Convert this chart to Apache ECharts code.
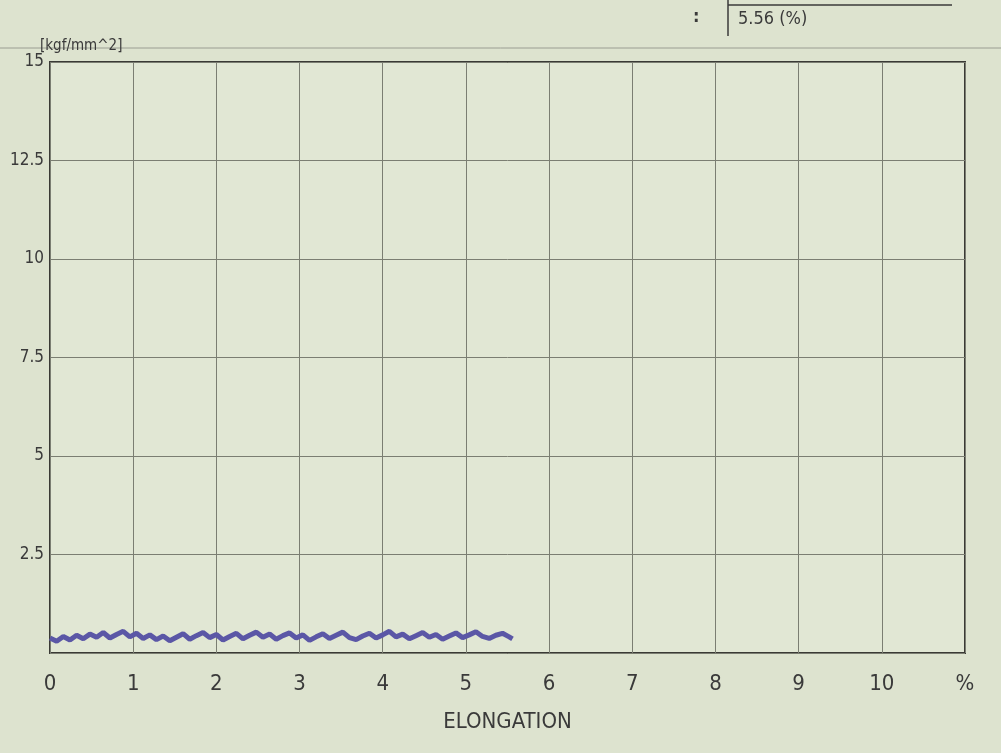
<!DOCTYPE html>
<html>
<head>
<meta charset="utf-8">
<script src="https://cdn.jsdelivr.net/npm/echarts@6/dist/echarts.min.js"></script>
<style>
html,body{margin:0;padding:0;background:#dde3cf;}
#c{width:1001px;height:753px;}
</style>
</head>
<body>
<div id="c"></div>
<script>
const elongation = [0,0.08,0.16,0.24,0.32,0.40,0.48,0.56,0.64,0.72,0.80,0.88,0.96,1.04,1.12,1.20,1.28,1.36,1.44,1.52,1.60,1.68,1.76,1.84,1.92,2.00,2.08,2.16,2.24,2.32,2.40,2.48,2.56,2.64,2.72,2.80,2.88,2.96,3.04,3.12,3.20,3.28,3.36,3.44,3.52,3.60,3.68,3.76,3.84,3.92,4.00,4.08,4.16,4.24,4.32,4.40,4.48,4.56,4.64,4.72,4.80,4.88,4.96,5.04,5.12,5.20,5.28,5.36,5.44,5.52,5.56];
const stress = [0.38,0.30,0.42,0.33,0.45,0.36,0.48,0.40,0.52,0.38,
0.47,0.55,0.41,0.50,0.37,0.46,0.34,0.43,0.31,0.40,
0.49,0.35,0.44,0.52,0.39,0.47,0.33,0.42,0.50,0.36,
0.45,0.53,0.40,0.48,0.35,0.44,0.51,0.38,0.46,0.32,
0.41,0.49,0.37,0.45,0.53,0.39,0.34,0.43,0.50,0.38,
0.46,0.55,0.41,0.48,0.36,0.44,0.52,0.40,0.47,0.35,
0.43,0.51,0.39,0.46,0.54,0.42,0.37,0.45,0.50,0.41,
0.36];
const xTickLabels = ['0','1','2','3','4','5','6','7','8','9','10','%'];
const yTickLabels = {15:'15',12.5:'12.5',10:'10',7.5:'7.5',5:'5',2.5:'2.5'};
const elongationResult = '5.56 (%)';

const font = "'DejaVu Sans Condensed','Liberation Sans Narrow','DejaVu Sans',sans-serif";
const chart = echarts.init(document.getElementById('c'));
chart.setOption({
  backgroundColor: '#dde3cf',
  animation: false,
  grid: {left: 50, right: 36, top: 62, bottom: 100, show: true, backgroundColor: '#e1e7d4', borderColor: '#3a3a35', borderWidth: 2},
  xAxis: {
    type: 'value', min: 0, max: 11, interval: 1,
    name: 'ELONGATION', nameLocation: 'middle', nameGap: 58,
    nameTextStyle: {fontFamily: font, fontSize: 22, color: '#3a3a3a'},
    axisLine: {show: false}, axisTick: {show: false},
    axisLabel: {fontFamily: font, fontSize: 22, color: '#3a3a3a', margin: 20,
      formatter: v => xTickLabels[Math.round(v)] || ''},
    splitLine: {show: true, lineStyle: {color: '#7b7e72', width: 1}}
  },
  yAxis: {
    type: 'value', min: 0, max: 15, interval: 2.5,
    name: '[kgf/mm^2]', nameLocation: 'end', nameGap: 6,
    nameTextStyle: {fontFamily: font, fontSize: 15, color: '#3a3a3a', align: 'left', padding: [0,0,0,-10]},
    axisLine: {show: false}, axisTick: {show: false},
    axisLabel: {fontFamily: font, fontSize: 17, color: '#3a3a3a', margin: 6,
      formatter: v => yTickLabels[v] || ''},
    splitLine: {show: true, lineStyle: {color: '#7b7e72', width: 1}}
  },
  series: [{
    type: 'line',
    data: elongation.map((x, i) => [x, stress[i]]),
    showSymbol: false,
    lineStyle: {color: '#5b57a6', width: 5},
    z: 5
  }],
  graphic: [
    {type: 'line', shape: {x1: 0, y1: 48, x2: 1001, y2: 48}, style: {stroke: '#9a9d92', lineWidth: 1}},
    {type: 'line', shape: {x1: 728, y1: 0, x2: 728, y2: 36}, style: {stroke: '#3a3a3a', lineWidth: 1.5}},
    {type: 'line', shape: {x1: 728, y1: 5, x2: 952, y2: 5}, style: {stroke: '#3a3a3a', lineWidth: 1.5}},
    {type: 'text', left: 693, top: 8, style: {text: ':', font: "bold 18px " + font, fill: '#3a3a3a'}},
    {type: 'text', left: 738, top: 10, style: {text: elongationResult, font: "18px " + font, fill: '#3a3a3a'}}
  ]
});
</script>
</body>
</html>
